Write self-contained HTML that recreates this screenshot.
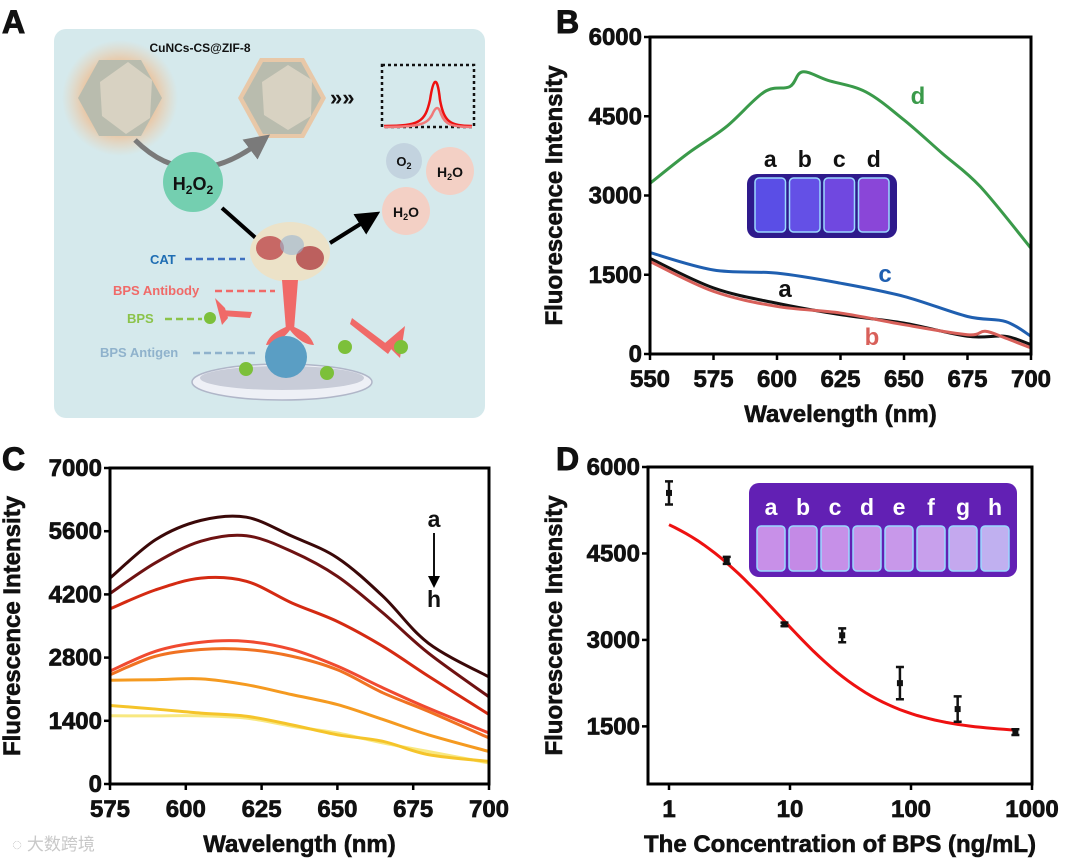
<!DOCTYPE html>
<html><head><meta charset="utf-8"><style>
html,body{margin:0;padding:0;background:#fff;}
svg{display:block;font-family:"Liberation Sans","Noto Sans CJK SC",sans-serif;}
.t{font-weight:bold;fill:#111;}
</style></head><body>
<svg id="fig" width="1080" height="862" viewBox="0 0 1080 862">
<defs>
<radialGradient id="glow" cx="50%" cy="50%" r="50%">
<stop offset="55%" stop-color="#f0b888" stop-opacity="0.9"/><stop offset="100%" stop-color="#f0c8a0" stop-opacity="0"/>
</radialGradient>
<marker id="ah" markerWidth="6" markerHeight="6" refX="3" refY="3" orient="auto"><path d="M0,0 L6,3 L0,6 z" fill="#000"/></marker>
<marker id="ahg" markerWidth="5" markerHeight="5" refX="2.5" refY="2.5" orient="auto"><path d="M0,0 L5,2.5 L0,5 z" fill="#7a7a7a"/></marker>
</defs>

<text class="t" x="2" y="33" font-size="32" stroke="#111" stroke-width="1">A</text>
<text class="t" x="556" y="33" font-size="32" stroke="#111" stroke-width="1">B</text>
<text class="t" x="2" y="470" font-size="32" stroke="#111" stroke-width="1">C</text>
<text class="t" x="556" y="470" font-size="32" stroke="#111" stroke-width="1">D</text>

<g>
<rect x="54" y="29" width="431" height="389" rx="12" fill="#d5e9ec"/>
<text class="t" x="200" y="52" font-size="12" text-anchor="middle">CuNCs-CS@ZIF-8</text>
<circle cx="120" cy="98" r="58" fill="url(#glow)"/>
<g>
<polygon points="78,98 99,60 141,60 162,98 141,136 99,136" fill="#b9bcae"/>
<polygon points="100,82 128,62 152,80 150,118 126,134 102,116" fill="#d8d2c2"/>
</g>
<g>
<polygon points="238,98 260,58 304,58 326,98 304,138 260,138" fill="#e8c8a8"/>
<polygon points="243,98 263,62 301,62 321,98 301,134 263,134" fill="#b9bcae"/>
<polygon points="262,82 288,65 312,80 311,116 288,130 264,115" fill="#d8d2c2"/>
</g>
<text class="t" x="330" y="105" font-size="22">»»</text>
<rect x="382" y="65" width="92" height="62" fill="none" stroke="#111" stroke-width="2.5" stroke-dasharray="3,3"/>
<path d="M384,126 C420,126 425,122 430,100 C433,80 437,72 440,100 C444,122 450,126 472,126" fill="none" stroke="#ee1111" stroke-width="2.5"/>
<path d="M384,127 C420,127 427,124 432,115 C435,108 438,104 441,114 C445,124 450,127 472,127" fill="none" stroke="#f07878" stroke-width="2.5"/>
<path d="M135,140 Q190,195 260,142" fill="none" stroke="#7a7a7a" stroke-width="5" marker-end="url(#ahg)"/>
<circle cx="193" cy="182" r="30" fill="#74cfb0"/>
<text class="t" x="193" y="190" font-size="18" text-anchor="middle">H<tspan font-size="12" dy="4">2</tspan><tspan dy="-4">O</tspan><tspan font-size="12" dy="4">2</tspan></text>
<circle cx="404" cy="161" r="18" fill="#c3d3df"/>
<text class="t" x="404" y="166" font-size="13" text-anchor="middle">O<tspan font-size="9" dy="3">2</tspan></text>
<circle cx="450" cy="171" r="24" fill="#f3d0c5"/>
<text class="t" x="450" y="177" font-size="14" text-anchor="middle">H<tspan font-size="9" dy="3">2</tspan><tspan dy="-3">O</tspan></text>
<circle cx="406" cy="211" r="24" fill="#f3d0c5"/>
<text class="t" x="406" y="217" font-size="14" text-anchor="middle">H<tspan font-size="9" dy="3">2</tspan><tspan dy="-3">O</tspan></text>
<line x1="222" y1="208" x2="258" y2="240" stroke="#000" stroke-width="4"/>
<line x1="330" y1="243" x2="370" y2="218" stroke="#000" stroke-width="4" marker-end="url(#ah)"/>
<g>
<ellipse cx="290" cy="252" rx="40" ry="30" fill="#ece2c8"/>
<ellipse cx="270" cy="248" rx="14" ry="12" fill="#b8343a" opacity="0.7"/>
<ellipse cx="310" cy="258" rx="14" ry="12" fill="#a82a30" opacity="0.7"/>
<ellipse cx="292" cy="245" rx="12" ry="10" fill="#9bb6d0" opacity="0.6"/>
</g>
<g fill="#f06a68">
<polygon points="282,280 298,280 294,330 286,330"/>
<path d="M290,325 C280,330 270,333 266,345 C275,345 284,338 290,330 C296,338 305,345 314,345 C310,333 300,330 290,325z"/>
</g>
<g fill="#f06a68"><path d="M220,310 L252,312 L250,318 L222,316z"/><path d="M225,308 L215,298 L222,325 L228,318z"/></g>
<g fill="#f06a68"><path d="M352,318 L392,348 L388,354 L350,324z"/><path d="M385,343 L405,326 L400,358 L390,348z"/></g>
<ellipse cx="282" cy="382" rx="90" ry="18" fill="#eef0f6" stroke="#b0b6c8" stroke-width="1.5"/>
<ellipse cx="282" cy="378" rx="82" ry="12" fill="#c8ccd8"/>
<circle cx="286" cy="357" r="21" fill="#5a9ec4"/>
<circle cx="210" cy="318" r="6" fill="#7cc03a"/>
<circle cx="401" cy="347" r="7" fill="#7cc03a"/>
<circle cx="345" cy="347" r="7" fill="#7cc03a"/>
<circle cx="246" cy="369" r="7" fill="#7cc03a"/>
<circle cx="327" cy="373" r="7" fill="#7cc03a"/>
<text class="t" x="150" y="264" font-size="13" style="fill:#1e6db3">CAT</text>
<line x1="185" y1="259" x2="245" y2="259" stroke="#3e70c0" stroke-width="2.5" stroke-dasharray="7,4"/>
<text class="t" x="113" y="295" font-size="13" style="fill:#f06a68">BPS Antibody</text>
<line x1="215" y1="291" x2="275" y2="291" stroke="#f06a68" stroke-width="2.5" stroke-dasharray="7,4"/>
<text class="t" x="127" y="323" font-size="13" style="fill:#8bc34a">BPS</text>
<line x1="165" y1="319" x2="202" y2="319" stroke="#8bc34a" stroke-width="2.5" stroke-dasharray="7,4"/>
<text class="t" x="100" y="357" font-size="13" style="fill:#8fb2cc">BPS Antigen</text>
<line x1="193" y1="353" x2="255" y2="353" stroke="#8fb2cc" stroke-width="2.5" stroke-dasharray="7,4"/>
</g>

<g id="chartB"></g>
<g id="chartC"></g>
<g id="chartD"></g>

<text x="12" y="850" font-size="17" fill="#c8c8c8">◌ 大数跨境</text>
</svg>
<script>
// ---------- Panel B data ----------
const bSeriesNames = ['a','b','c','d'];
const bColors = ['#111111','#d8605a','#1f5fb0','#3a9a4a'];
const bX_a = [550,575,600,625,650,675,690,700];
const bY_a = [1810,1250,960,745,585,335,335,175];
const bX_b = [550,575,600,625,650,675,682,690,700];
const bY_b = [1750,1185,900,775,555,365,430,300,115];
const bX_c = [550,575,600,625,650,675,690,700];
const bY_c = [1920,1590,1530,1340,1090,710,615,335];
const bX_d = [550,565,580,595,605,610,620,635,650,665,680,700];
const bY_d = [3230,3800,4300,4960,5060,5340,5180,4960,4430,3800,3170,2000];
const bYTicks = [0,1500,3000,4500,6000];
const bXTicks = [550,575,600,625,650,675,700];

// ---------- Panel C data ----------
const cX = [575,590,605,620,635,650,665,680,700];
const cY_a = [4560,5410,5840,5910,5490,5010,4160,3120,2370];
const cY_b = [4220,4900,5380,5500,5150,4600,3790,2900,1930];
const cY_c = [3880,4300,4560,4490,4010,3600,3050,2390,1540];
const cY_d = [2500,2940,3140,3160,2980,2610,2130,1680,1130];
const cY_e = [2420,2830,2980,2980,2830,2530,2020,1610,1020];
const cY_f = [2300,2310,2330,2200,1980,1760,1430,1090,720];
const cY_g = [1740,1660,1570,1500,1310,1090,945,650,500];
const cY_h = [1510,1510,1510,1460,1280,1130,910,720,465];
const cColors = ['#3a0808','#6e1212','#d42a12','#f04a30','#f07222','#f59a20','#f5c42a','#f8e880'];
const cYTicks = [0,1400,2800,4200,5600,7000];
const cXTicks = [575,600,625,650,675,700];

// ---------- Panel D data ----------
const dConc = [1,3,9,27,81,243,729];
const dMean = [5550,4380,3270,3080,2250,1800,1400];
const dErr = [200,60,30,120,280,220,50];
const dFitTop = 5500, dFitBottom = 1380, dFitC = 8, dFitSlope = 0.95;
const dYTicks = [1500,3000,4500,6000];
const dXTicks = [1,10,100,1000];

const NS='http://www.w3.org/2000/svg';
function mk(parent, tag, attrs){const e=document.createElementNS(NS,tag);for(const k in attrs)e.setAttribute(k,attrs[k]);parent.appendChild(e);return e;}
function smooth(pts){let d='M'+pts[0][0].toFixed(1)+','+pts[0][1].toFixed(1);
 for(let i=0;i<pts.length-1;i++){const p0=pts[Math.max(0,i-1)],p1=pts[i],p2=pts[i+1],p3=pts[Math.min(pts.length-1,i+2)];
 const c1=[p1[0]+(p2[0]-p0[0])/6,p1[1]+(p2[1]-p0[1])/6],c2=[p2[0]-(p3[0]-p1[0])/6,p2[1]-(p3[1]-p1[1])/6];
 d+=' C'+c1.join(',')+' '+c2.join(',')+' '+p2.join(',');}return d;}

function axes(g, L,R,T,B, yTicks, yFn, xTicks, xFn, xLabelFn, yTitle, xTitle, yTitleX){
 const f=mk(g,'rect',{x:L,y:T,width:R-L,height:B-T,fill:'none',stroke:'#000','stroke-width':3});
 
 
 yTicks.forEach(v=>{const y=yFn(v);
  const tk=mk(g,'line',{x1:L-6,x2:L,y1:y,y2:y,stroke:'#000','stroke-width':2.5});
  
  
  const t=mk(g,'text',{x:L-8,y:y+8,'text-anchor':'end','font-size':24,'font-weight':'bold',fill:'#111',stroke:'#111','stroke-width':0.7});
  t.textContent=v;
  
  });
 xTicks.forEach(v=>{const x=xFn(v);
  const tk=mk(g,'line',{x1:x,x2:x,y1:B,y2:B+6,stroke:'#000','stroke-width':2.5});
  
  
  const t=mk(g,'text',{x:x,y:B+33,'text-anchor':'middle','font-size':24,'font-weight':'bold',fill:'#111',stroke:'#111','stroke-width':0.7});
  t.textContent=xLabelFn(v);
  
  });
 const yt=mk(g,'text',{x:0,y:0,'text-anchor':'middle','font-size':24,'font-weight':'bold',fill:'#111',stroke:'#111','stroke-width':0.6,transform:`translate(${yTitleX},${(T+B)/2}) rotate(-90)`});
 yt.textContent=yTitle;
 
 
 const xt=mk(g,'text',{x:(L+R)/2,y:B+68,'text-anchor':'middle','font-size':24,'font-weight':'bold',fill:'#111',stroke:'#111','stroke-width':0.6});
 xt.textContent=xTitle;
 
 
}

function vials(g,x0,y0,w,h,n,bg,liquid,labels,labelColor,labelY,name,vialTop){
 const r=mk(g,'rect',{x:x0,y:y0,width:w,height:h,rx:10,fill:bg});
 
 
 const vw=(w-12)/n;
 const vt=vialTop||y0+4;
 for(let i=0;i<n;i++){const vx=x0+6+i*vw;
  const v=mk(g,'rect',{x:vx+2,y:vt,width:vw-4,height:y0+h-6-vt,rx:4,fill:liquid[i],stroke:'#9ad8ff','stroke-width':1.5});
  
  
  const l=mk(g,'text',{x:vx+vw/2,y:labelY,'text-anchor':'middle','font-size':23,'font-weight':'bold',fill:labelColor});
  l.textContent=labels[i];
  
  }
}

// ---- Chart B ----
(function(){
 const g=document.getElementById('chartB');
 const L=650,R=1031,T=37,B=354;
 const x=v=>L+(v-550)/150*(R-L), y=v=>B-v/6000*(B-T);
 const xs=[bX_a,bX_b,bX_c,bX_d], ys=[bY_a,bY_b,bY_c,bY_d];
 [3,2,0,1].forEach(i=>{const p=mk(g,'path',{d:smooth(xs[i].map((v,j)=>[x(v),y(ys[i][j])])),fill:'none',stroke:bColors[i],'stroke-width':3,'stroke-linejoin':'round'});
  
  });
 axes(g,L,R,T,B,bYTicks,y,bXTicks,x,v=>v,'Fluorescence Intensity','Wavelength (nm)',562);
 const lbl=[[785,297,'a','#111'],[872,345,'b','#d8605a'],[885,282,'c','#1f5fb0'],[918,104,'d','#3a9a4a']];
 lbl.forEach(l=>{const t=mk(g,'text',{x:l[0],y:l[1],'text-anchor':'middle','font-size':24,'font-weight':'bold',fill:l[3]});t.textContent=l[2];
  
  });
 vials(g,747,174,150,64,4,'#2e1a8c',['#5a4ee6','#6450e6','#7048e0','#8a46d8'],['a','b','c','d'],'#111',167,'vial-inset-b');
})();

// ---- Chart C ----
(function(){
 const g=document.getElementById('chartC');
 const L=110,R=489,T=468,B=784;
 const x=v=>L+(v-575)/125*(R-L), y=v=>B-v/7000*(B-T);
 const ys=[cY_a,cY_b,cY_c,cY_d,cY_e,cY_f,cY_g,cY_h];
 for(let i=ys.length-1;i>=0;i--){const p=mk(g,'path',{d:smooth(cX.map((v,j)=>[x(v),y(ys[i][j])])),fill:'none',stroke:cColors[i],'stroke-width':3});
  
  }
 axes(g,L,R,T,B,cYTicks,y,cXTicks,x,v=>v,'Fluorescence Intensity','Wavelength (nm)',20);
 const a=mk(g,'text',{x:434,y:527,'text-anchor':'middle','font-size':23,'font-weight':'bold',fill:'#111'});a.textContent='a';
 
 
 const h=mk(g,'text',{x:434,y:607,'text-anchor':'middle','font-size':23,'font-weight':'bold',fill:'#111'});h.textContent='h';
 
 
 const ln=mk(g,'line',{x1:434,y1:533,x2:434,y2:582,stroke:'#111','stroke-width':2,'marker-end':'url(#ah)'});
 
 
})();

// ---- Chart D ----
(function(){
 const g=document.getElementById('chartD');
 const L=648,R=1032,T=467,B=784;
 const x=v=>669+Math.log10(v)*121, y=v=>B-(v-500)/5500*(B-T);
 vials(g,749,483,268,94,8,'#6220b4',['#c890e8','#c48ae6','#c690e8','#c894e8','#c898ea','#c8a0ec','#c4a8ee','#c0b0f0'],['a','b','c','d','e','f','g','h'],'#ffffff',515,'vial-inset-d',526);
 const pts=[];for(let k=0;k<=60;k++){const c=Math.pow(10,Math.log10(dConc[0])+k/60*(Math.log10(dConc[dConc.length-1])-Math.log10(dConc[0])));
  pts.push([x(c),y(dFitBottom+(dFitTop-dFitBottom)/(1+Math.pow(c/dFitC,dFitSlope)))]);}
 const fit=mk(g,'path',{d:'M'+pts.map(p=>p[0].toFixed(1)+','+p[1].toFixed(1)).join(' L'),fill:'none',stroke:'#ee1111','stroke-width':3});
 
 
 dConc.forEach((c,i)=>{const cx=x(c),y1=y(dMean[i]+dErr[i]),y2=y(dMean[i]-dErr[i]);
  const e=mk(g,'path',{d:`M${cx},${y1}V${y2}M${cx-4},${y1}H${cx+4}M${cx-4},${y2}H${cx+4}`,stroke:'#111','stroke-width':2.5,fill:'none'});
  
  
  const p=mk(g,'rect',{x:cx-3,y:y(dMean[i])-3,width:6,height:6,fill:'#111'});
  
  });
 axes(g,L,R,T,B,dYTicks,y,dXTicks,x,v=>v,'Fluorescence Intensity','The Concentration of BPS (ng/mL)',562);
})();
</script>
</body></html>
